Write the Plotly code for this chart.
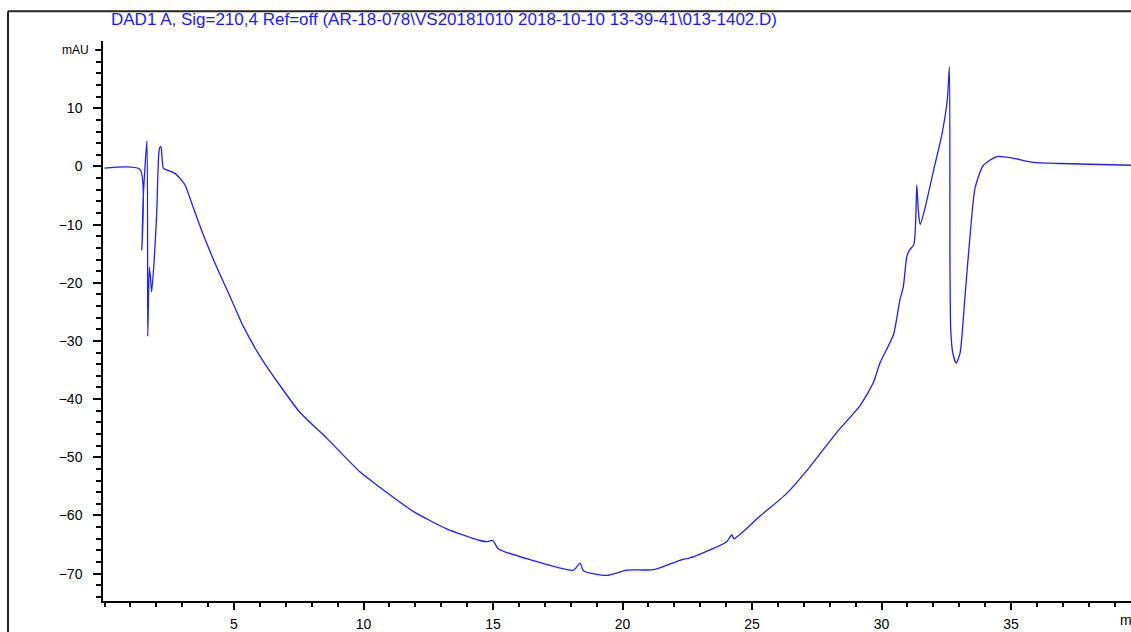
import plotly.graph_objects as go

# Retention time (min) and absorbance (mAU)
time_min = [0.00, 1.37, 1.44, 1.49, 1.64, 1.67, 1.73, 1.78, 1.82, 1.92, 2.02, 2.12, 2.18,
            2.27, 2.40, 2.72, 2.98, 3.11, 3.43, 3.81, 4.33, 4.85, 5.36, 6.00, 6.78, 7.55,
            8.58, 9.86, 10.64, 11.92, 13.21, 14.50, 14.76, 14.99, 15.20, 16.43, 18.10,
            18.36, 18.49, 19.39, 20.16, 21.19, 22.22, 22.73, 24.02, 24.22, 24.30, 25.31,
            26.34, 27.24, 28.27, 29.17, 29.68, 29.94, 30.46, 30.71, 30.84, 30.97, 31.07,
            31.25, 31.36, 31.42, 31.49, 31.68, 32.00, 32.32, 32.54, 32.62, 32.64, 32.67,
            32.75, 32.88, 33.03, 33.22, 33.42, 33.61, 33.93, 34.45, 35.09, 35.86, 36.89,
            39.63]
signal_mau = [-0.3, -0.5, -14.4, -5.8, 4.4, -29.2, -17.3, -19.4, -21.6, -16.0, -7.6, 3.1, 3.4,
              -0.3, -0.6, -1.2, -2.4, -3.2, -7.1, -11.7, -17.3, -22.4, -27.5, -32.6, -37.7,
              -42.3, -46.7, -52.5, -55.2, -59.3, -62.3, -64.3, -64.5, -64.3, -65.7, -67.6,
              -69.4, -68.2, -69.5, -70.3, -69.4, -69.3, -67.7, -67.1, -64.5, -63.3, -64.0,
              -60.1, -56.2, -51.6, -45.7, -41.1, -37.2, -33.8, -28.9, -22.9, -20.7, -15.6,
              -14.4, -13.4, -3.2, -7.6, -10.0, -7.1, -0.8, 5.3, 11.5, 17.1, -15.6, -28.0,
              -32.1, -33.8, -32.1, -22.4, -11.7, -3.7, 0.2, 1.7, 1.4, 0.7, 0.5, 0.2]

y_ticks = [10, 0, -10, -20, -30, -40, -50, -60, -70]
x_ticks = [5, 10, 15, 20, 25, 30, 35]
title_text = "DAD1 A, Sig=210,4 Ref=off (AR-18-078\\VS20181010 2018-10-10 13-39-41\\013-1402.D)"

W, H = 1131, 632
L, R, T, B = 103, 0, 41, 24
pw, ph = W - L - R, H - T - B

def px_to_paper_x(px):
    return (px - L) / pw

def py_to_paper_y(py):
    return (H - B - py) / ph

fig = go.Figure()
fig.add_trace(go.Scatter(x=time_min, y=signal_mau, mode="lines",
                         line=dict(color="#1f1fff", width=1.3, shape="spline", smoothing=0.6),
                         showlegend=False, hoverinfo="x+y"))

font_family = "Liberation Sans, Arial, sans-serif"

fig.update_layout(
    width=W, height=H,
    margin=dict(l=L, r=R, t=T, b=B, pad=0),
    paper_bgcolor="white", plot_bgcolor="white",
    font=dict(family=font_family, size=14, color="black"),
    xaxis=dict(range=[-0.058, 39.63], tickvals=x_ticks, ticks="outside", ticklen=7,
               tickwidth=1.5, tickcolor="black", showline=True, linecolor="black",
               linewidth=1.5, showgrid=False, zeroline=False, mirror=False,
               ticklabelstandoff=2,
               minor=dict(dtick=1, tick0=0, ticks="outside", ticklen=4, tickwidth=1.5,
                          tickcolor="black", showgrid=False),
               tickfont=dict(family=font_family, size=14, color="black")),
    yaxis=dict(range=[-74.7, 21.56], tickvals=y_ticks, ticks="outside", ticklen=8,
               tickwidth=1.5, tickcolor="black", showline=True, linecolor="black",
               linewidth=1.5, showgrid=False, zeroline=False, mirror=False,
               ticklabelstandoff=8,
               minor=dict(dtick=2, tick0=0, ticks="outside", ticklen=5, tickwidth=1.5,
                          tickcolor="black", showgrid=False),
               tickfont=dict(family=font_family, size=14, color="black")),
)

# outer frame (top and left edges visible in the crop)
fig.add_shape(type="line", xref="paper", yref="paper",
              x0=px_to_paper_x(8), x1=px_to_paper_x(1140),
              y0=py_to_paper_y(11), y1=py_to_paper_y(11),
              line=dict(color="#222222", width=2))
fig.add_shape(type="line", xref="paper", yref="paper",
              x0=px_to_paper_x(8), x1=px_to_paper_x(8),
              y0=py_to_paper_y(11), y1=py_to_paper_y(640),
              line=dict(color="#222222", width=2))
# top tick of y axis at 20 mAU
fig.add_shape(type="line", xref="paper", yref="y",
              x0=px_to_paper_x(95), x1=0, y0=20, y1=20,
              line=dict(color="black", width=1.5))

fig.add_annotation(text=title_text, xref="paper", yref="paper",
                   x=px_to_paper_x(109), y=py_to_paper_y(19), xanchor="left", yanchor="middle",
                   showarrow=False, font=dict(family=font_family, size=17, color="#1a1aff"))
fig.add_annotation(text="mAU", xref="paper", yref="y",
                   x=px_to_paper_x(91), y=20, xanchor="right", yanchor="middle",
                   showarrow=False, font=dict(family=font_family, size=12, color="black"))
fig.add_annotation(text="min", xref="paper", yref="paper",
                   x=px_to_paper_x(1118), y=py_to_paper_y(627), xanchor="left", yanchor="middle",
                   showarrow=False, font=dict(family=font_family, size=14, color="black"))

fig.write_html("out.html")
